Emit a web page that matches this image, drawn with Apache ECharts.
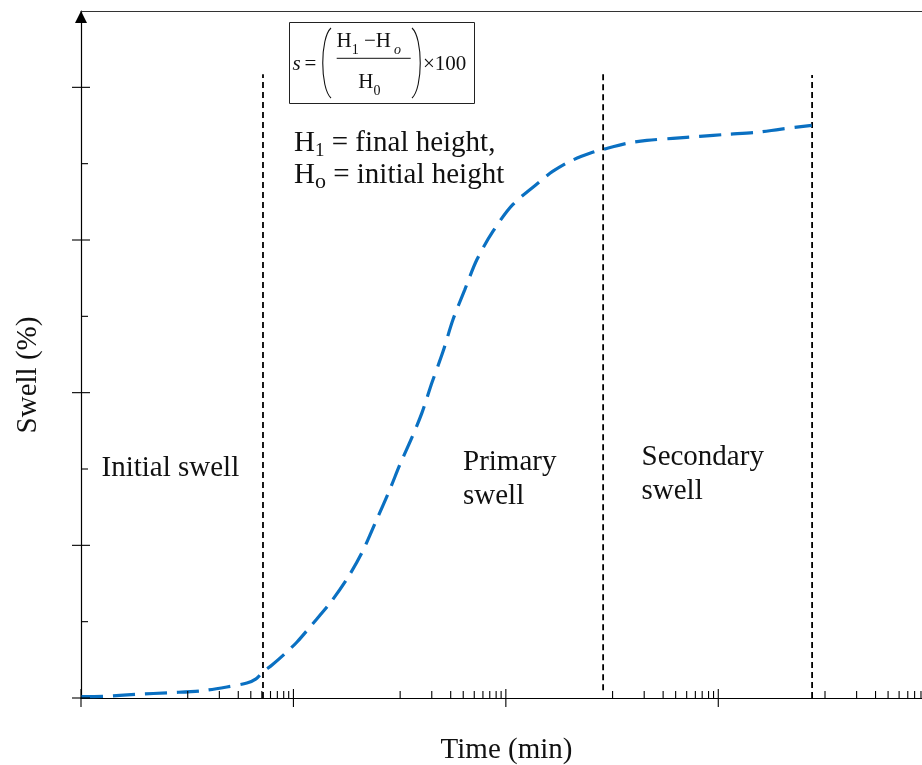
<!DOCTYPE html>
<html>
<head>
<meta charset="utf-8">
<script src="https://cdn.jsdelivr.net/npm/echarts@6/dist/echarts.min.js"></script>
<style>
html, body { margin: 0; padding: 0; background: #fff; }
#chart { width: 922px; height: 765px; }
</style>
</head>
<body>
<div id="chart"></div>
<script>
// ---- data ----
const timeMin = [1, 1.27, 1.83, 2.62, 3.63, 4.86, 6.04, 6.67, 7.18, 7.93, 9.31, 10.4, 12.2, 14.9, 18.0, 21.0, 24.4, 28.4, 31.7, 36.1, 40.3, 44.9, 50.6, 56.4, 64.1, 73.1, 86.9, 108, 149, 166, 200, 256, 286, 371, 461, 611, 818, 1096, 1517, 1945, 2754];
const swell = [0.009, 0.011, 0.024, 0.035, 0.046, 0.072, 0.098, 0.125, 0.170, 0.216, 0.302, 0.367, 0.479, 0.623, 0.787, 0.951, 1.154, 1.364, 1.528, 1.705, 1.869, 2.066, 2.269, 2.479, 2.675, 2.872, 3.056, 3.233, 3.397, 3.449, 3.515, 3.574, 3.593, 3.633, 3.652, 3.666, 3.679, 3.692, 3.705, 3.725, 3.751];
const phaseBoundaryTime = [7.19, 287, 2765];
const phaseBoundaryBottom = [0, 0.05, 0];
const phaseBoundaryTop = [4.085, 4.105, 4.08];
const xMajorTicks = [1, 10, 100, 1000];
const xMinorMultipliers = [3.18, 4.48, 5.5, 6.3, 7.1, 7.8, 8.4, 9.0, 9.5];
const yMajorTicks = [0, 1, 2, 3, 4];
const yMinorTicks = [0.5, 1.5, 2.5, 3.5];
const phaseLabels = ['Initial swell', 'Primary\nswell', 'Secondary\nswell'];
const xTitle = 'Time (min)';
const yTitle = 'Swell (%)';

// ---- build ----
const SERIF = '"Liberation Serif", "Times New Roman", serif';
const xMinorTicks = [];
xMajorTicks.forEach(d => xMinorMultipliers.forEach(m => xMinorTicks.push(d * m)));

const chart = echarts.init(document.getElementById('chart'), null, { renderer: 'canvas' });

function tickSeries(data, build) {
  return {
    type: 'custom', xAxisIndex: 0, yAxisIndex: 0, clip: false, silent: true, z: 5,
    data: data,
    renderItem: function (params, api) {
      const p = api.coord([api.value(0), api.value(1)]);
      return build(p);
    }
  };
}
const tickStyle = { stroke: '#000', lineWidth: 1.1 };

const series = [];
// phase boundaries
phaseBoundaryTime.forEach((t, i) => {
  series.push({
    type: 'line', symbol: 'none', silent: true, z: 3,
    data: [[t, phaseBoundaryBottom[i]], [t, phaseBoundaryTop[i]]],
    lineStyle: { color: '#000', width: 1.8, type: [6, 4] }
  });
});
// swell curve
series.push({
  type: 'line', symbol: 'none', smooth: 0.3, z: 4,
  data: timeMin.map((t, i) => [t, swell[i]]),
  lineStyle: { color: '#0a70c2', width: 3.2, type: [22, 10] }
});
// ticks
series.push(tickSeries(xMajorTicks.map(v => [v, 0]), p => ({
  type: 'line', shape: { x1: p[0], y1: p[1] - 9, x2: p[0], y2: p[1] + 9 }, style: tickStyle
})));
series.push(tickSeries(xMinorTicks.map(v => [v, 0]), p => ({
  type: 'line', shape: { x1: p[0], y1: p[1] - 7, x2: p[0], y2: p[1] }, style: tickStyle
})));
series.push(tickSeries(yMajorTicks.map(v => [1, v]), p => ({
  type: 'line', shape: { x1: p[0] - 9, y1: p[1], x2: p[0] + 9, y2: p[1] }, style: tickStyle
})));
series.push(tickSeries(yMinorTicks.map(v => [1, v]), p => ({
  type: 'line', shape: { x1: p[0], y1: p[1], x2: p[0] + 7, y2: p[1] }, style: tickStyle
})));

const txt = (x, y, text, size, extra) => Object.assign({
  type: 'text', x: x, y: y, z: 10,
  style: Object.assign({ text: text, fontFamily: SERIF, fontSize: size, fill: '#111', align: 'left', verticalAlign: 'middle' }, extra || {})
});

const phaseLabelPos = [[101.5, 451], [463, 445.5], [641.5, 440.5]];
const graphics = [];
phaseLabels.forEach((lab, i) => {
  graphics.push(txt(phaseLabelPos[i][0], phaseLabelPos[i][1], lab, 29, { verticalAlign: 'top', lineHeight: 34 }));
});

// definitions
const mainRich = (size, lh) => ({ fontFamily: SERIF, fontSize: size, lineHeight: lh, fill: '#111' });
graphics.push({
  type: 'text', x: 294, y: 143, z: 10,
  style: {
    text: '{m|H}{s|1}{m| = final height,}', align: 'left', verticalAlign: 'middle',
    rich: { m: mainRich(29, 36), s: Object.assign(mainRich(19, 18), { verticalAlign: 'bottom' }) }
  }
});
graphics.push({
  type: 'text', x: 294, y: 175, z: 10,
  style: {
    text: '{m|H}{s|o}{m| = initial height}', align: 'left', verticalAlign: 'middle',
    rich: { m: mainRich(29, 36), s: Object.assign(mainRich(22, 12), { verticalAlign: 'bottom' }) }
  }
});

// formula box
graphics.push({ type: 'rect', z: 9, shape: { x: 289.5, y: 22.5, width: 185, height: 81 }, style: { fill: '#fff', stroke: '#222', lineWidth: 1 } });
graphics.push(txt(292.5, 64, 's', 21, { fontStyle: 'italic' }));
graphics.push(txt(304.5, 64, '=', 21));
graphics.push({ type: 'bezierCurve', z: 10, shape: { x1: 331, y1: 28, cpx1: 320, cpy1: 38, cpx2: 320, cpy2: 88, x2: 331, y2: 98 }, style: { stroke: '#111', lineWidth: 1.1, fill: null } });
graphics.push({ type: 'bezierCurve', z: 10, shape: { x1: 412, y1: 28, cpx1: 423, cpy1: 38, cpx2: 423, cpy2: 88, x2: 412, y2: 98 }, style: { stroke: '#111', lineWidth: 1.1, fill: null } });
graphics.push({
  type: 'text', x: 336.5, y: 41.3, z: 10,
  style: {
    text: '{m|H}{s|1}{m| −H}{o|o}', align: 'left', verticalAlign: 'middle',
    rich: {
      m: mainRich(21, 32),
      s: Object.assign(mainRich(14, 14), { verticalAlign: 'bottom' }),
      o: Object.assign(mainRich(14, 22), { verticalAlign: 'bottom', fontStyle: 'italic', padding: [0, 0, 0, 3] })
    }
  }
});
graphics.push({ type: 'line', z: 10, shape: { x1: 336.7, y1: 58.3, x2: 410.7, y2: 58.3 }, style: { stroke: '#111', lineWidth: 1 } });
graphics.push({
  type: 'text', x: 358.3, y: 82, z: 10,
  style: {
    text: '{m|H}{s|0}', align: 'left', verticalAlign: 'middle',
    rich: { m: mainRich(21, 32), s: Object.assign(mainRich(14, 14), { verticalAlign: 'bottom' }) }
  }
});
graphics.push(txt(423, 64, '×100', 21));

// axis titles
graphics.push(txt(506.5, 750, xTitle, 29, { align: 'center' }));
graphics.push({
  type: 'text', x: 28, y: 375, rotation: Math.PI / 2, z: 10,
  style: { text: yTitle, fontFamily: SERIF, fontSize: 29, fill: '#111', align: 'center', verticalAlign: 'middle' }
});

const hiddenBits = { axisTick: { show: false }, axisLabel: { show: false }, splitLine: { show: false }, minorTick: { show: false }, minorSplitLine: { show: false } };

chart.setOption({
  animation: false,
  backgroundColor: '#fff',
  grid: { left: 81, right: 0, top: 11, bottom: 67, containLabel: false },
  xAxis: [
    Object.assign({
      type: 'log', logBase: 10, min: 1, max: 9100, position: 'bottom',
      axisLine: { show: true, onZero: false, lineStyle: { color: '#000', width: 1.2 } }
    }, hiddenBits),
    Object.assign({
      type: 'log', logBase: 10, min: 1, max: 9100, position: 'top',
      axisLine: { show: true, onZero: false, lineStyle: { color: '#333', width: 1.2 } }
    }, hiddenBits)
  ],
  yAxis: Object.assign({
    type: 'value', min: 0, max: 4.5,
    axisLine: { show: true, onZero: false, symbol: ['none', 'triangle'], symbolSize: [12, 12], symbolOffset: [0, -6], lineStyle: { color: '#000', width: 1.2 } }
  }, hiddenBits),
  series: series,
  graphic: graphics
});
</script>
</body>
</html>
